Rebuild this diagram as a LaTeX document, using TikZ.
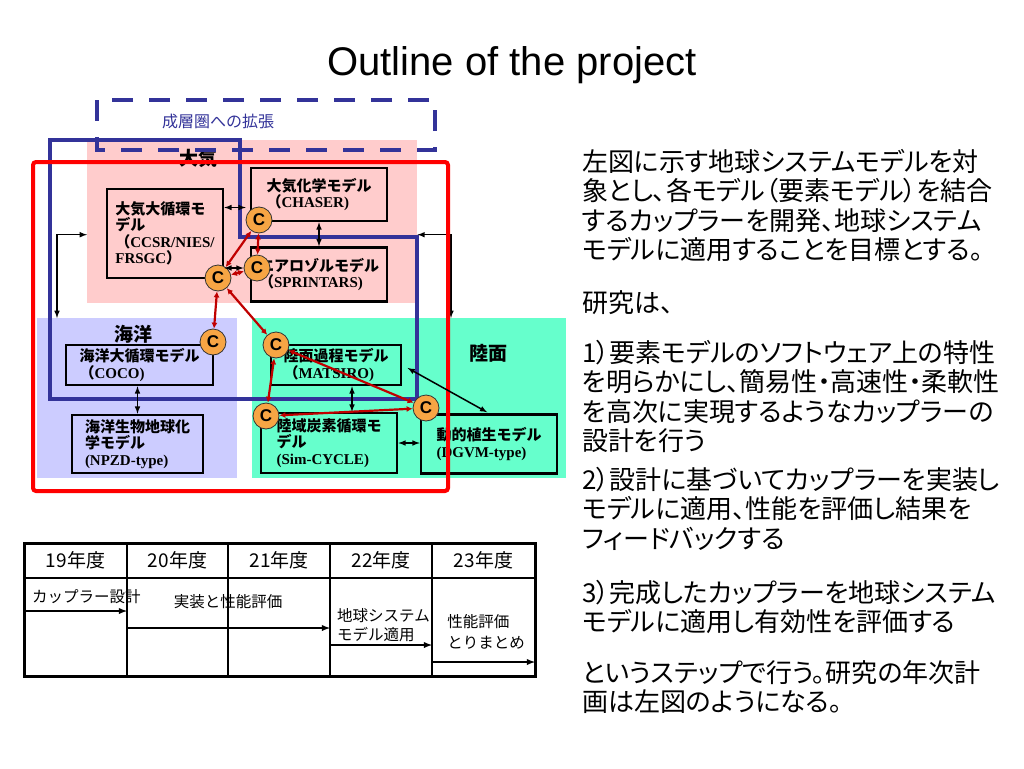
\documentclass[tikz,border=0pt]{standalone}
\usepackage{fontspec}
\setmainfont{Liberation Serif}
\setsansfont{Liberation Sans}
\newfontfamily\jp{Noto Sans CJK JP}
\newfontfamily\jpp[RawFeature=+palt]{Noto Sans CJK JP}
\usetikzlibrary{calc,arrows.meta}
\definecolor{atmpink}{HTML}{FFCCCC}
\definecolor{ocnblue}{HTML}{CCCCFF}
\definecolor{lndgreen}{HTML}{66FFCC}
\definecolor{navy}{HTML}{333399}
\definecolor{cplred}{HTML}{C00000}
\definecolor{cplorange}{HTML}{F7A544}
\begin{document}
\begin{tikzpicture}[x=1pt,y=-1pt,>=latex,
  region/.style={anchor=north west,inner sep=0pt},
  lbl/.style={font=\jp\bfseries\fontsize{19}{19}\selectfont},
  model/.style={draw,line width=2.5pt,align=left,inner sep=0pt,font=\bfseries\fontsize{15}{16.5}\selectfont},
  cpl/.style={circle,draw=black!80,line width=0.8pt,fill=cplorange,minimum size=26pt,inner sep=0pt,font=\sffamily\bfseries\fontsize{17}{17}\selectfont},
  redarr/.style={{Latex[length=6pt,width=6pt]}-{Latex[length=6pt,width=6pt]},draw=cplred,line width=2.2pt},
  blkarr/.style={<->,line width=1.5pt},
  cell/.style={draw,line width=1.2pt,inner sep=0pt,outer sep=0pt,anchor=north west},
  hdr/.style={minimum height=35pt,font=\jp\fontsize{19}{19}\selectfont},
  plantxt/.style={inner sep=0pt,font=\jp\fontsize{15.5}{19}\selectfont},
  plan/.style={->,line width=1.8pt},
  say/.style={anchor=north west,align=left,inner sep=0pt,font=\jpp\fontsize{26}{29.5}\selectfont}]
\useasboundingbox (0,0) rectangle (1024,768);

\node[font=\sffamily\fontsize{40}{40}\selectfont] (title) at (512,65) {Outline of the project};

% component areas
\node[region,fill=atmpink,minimum width=330pt,minimum height=163pt] (atm) at (87,140) {};
\node[region,fill=ocnblue,minimum width=200pt,minimum height=160pt] (ocean) at (37,318) {};
\node[region,fill=lndgreen,minimum width=314pt,minimum height=160pt] (land) at (252,318) {};
\node[lbl] (atmlbl) at (198,158) {大気};
\node[lbl] (ocnlbl) at (133,334) {海洋};
\node[lbl] (lndlbl) at (488,353) {陸面};

\node[model,minimum width=116pt,minimum height=89pt] (gcm) at (165,233.5)
  {{\jp 大気大循環モ}\\{\jp デル}\\{\jp （}CCSR/NIES/\\FRSGC{\jp ）}};
\node[model,minimum width=136pt,minimum height=53pt] (chaser) at (319,194.5)
  {{\jp 大気化学モデル}\\{\jp （}CHASER)};
\node[model,minimum width=136pt,minimum height=54pt] (sprint) at (319,274.5)
  {{\jp エアロゾルモデル}\\{\jp （}SPRINTARS)};
\node[model,minimum width=147pt,minimum height=40pt] (coco) at (139.5,365)
  {{\jp 海洋大循環モデル}\\{\jp （}COCO)};
\node[model,minimum width=131pt,minimum height=58pt] (npzd) at (137.5,444)
  {{\jp 海洋生物地球化}\\{\jp 学モデル}\\(NPZD-type)};
\node[model,minimum width=130pt,minimum height=40pt] (matsiro) at (336,365)
  {{\jp 陸面過程モデル}\\{\jp （}MATSIRO)};
\node[model,minimum width=136pt,minimum height=60pt] (simcyc) at (329,443)
  {{\jp 陸域炭素循環モ}\\{\jp デル}\\(Sim-CYCLE)};
\node[model,minimum width=136pt,minimum height=59pt] (dgvm) at (489,444)
  {{\jp 動的植生モデル}\\(DGVM-type)};

\draw[blkarr] ([yshift=-13pt]atm.west) -| ([xshift=20pt]ocean.north west);
\draw[blkarr] ([yshift=-13pt]atm.east) -| ([xshift=199pt]land.north west);

% frames
\draw[navy,line width=4pt] (50,140)--(240,140)--(240,237)--(417,237)--(417,399)--(50,399)--cycle;
\draw[red,line width=4pt,rounded corners=3pt] (33,162) rectangle (448,491);
\draw[navy,line width=4pt,dash pattern=on 21pt off 16pt] (97,100) rectangle (435,150);
\node[font=\jp\fontsize{16}{16}\selectfont,text=navy] (strat) at (218,121) {成層圏への拡張};

% couplers
\node[cpl] (c1) at (259,220) {C};
\node[cpl] (c2) at (257,268) {C};
\node[cpl] (c3) at (218,278) {C};
\node[cpl] (c4) at (213,342) {C};
\node[cpl] (c5) at (276,345) {C};
\node[cpl] (c6) at (266,416) {C};
\node[cpl] (c7) at (426,408) {C};

\coordinate (a1) at ($(chaser.west)+(-4,13)$);
\draw[blkarr] (gcm.east |- a1) -- (a1);
\draw[blkarr] (gcm.east |- c2.west) -- (c2.west);
\draw[blkarr] (chaser.south) -- (sprint.north);
\draw[blkarr] (npzd.north |- coco.south) -- (npzd.north);
\draw[blkarr] ([xshift=16pt]matsiro.south) -- ([xshift=16pt]matsiro.south |- simcyc.north);
\draw[blkarr] (simcyc.east) -- (simcyc.east -| dgvm.west);
\draw[blkarr,shorten <=6pt,shorten >=2pt] (matsiro.east) -- (dgvm.north);

\draw[redarr] (c1) -- (c3);
\draw[redarr] (c1) -- (c2);
\draw[redarr] (c2) -- (c3);
\draw[redarr] (c3) -- (c4);
\draw[redarr] (c3) -- (c5);
\draw[redarr] (c5) -- (c6);
\draw[redarr] (c5) -- (c7);
\draw[redarr] (c6) -- (c7);

% plan table
\node[cell,hdr,minimum width=103pt] (h19) at (24,543) {19年度};
\node[cell,hdr,minimum width=101pt] (h20) at (h19.north east) {20年度};
\node[cell,hdr,minimum width=102pt] (h21) at (h20.north east) {21年度};
\node[cell,hdr,minimum width=102pt] (h22) at (h21.north east) {22年度};
\node[cell,hdr,minimum width=103pt] (h23) at (h22.north east) {23年度};
\node[cell,minimum width=103pt,minimum height=98pt] (b19) at (h19.south west) {};
\node[cell,minimum width=101pt,minimum height=98pt] (b20) at (h20.south west) {};
\node[cell,minimum width=102pt,minimum height=98pt] (b21) at (h21.south west) {};
\node[cell,minimum width=102pt,minimum height=98pt] (b22) at (h22.south west) {};
\node[cell,minimum width=103pt,minimum height=98pt] (b23) at (h23.south west) {};
\draw[line width=3pt] (h19.north west) rectangle (b23.south east);

\node[plantxt,anchor=west] (t19) at (32,597) {カップラー設計};
\node[plantxt] (t20) at (228,602) {実装と性能評価};
\node[plantxt,anchor=west,align=left] (t22) at (337,625.5) {地球システム\\モデル適用};
\node[plantxt,align=left,font=\jp\fontsize{15.5}{21}\selectfont] (t23) at (486,631.5) {性能評価\\とりまとめ};
\draw[plan] ([yshift=-33pt]b19.north west) -- ([yshift=-33pt]b19.north east);
\draw[plan] ([yshift=-50pt]b20.north west) -- ([yshift=-50pt]b21.north east);
\draw[plan] ([yshift=-67pt]b22.north west) -- ([yshift=-67pt]b22.north east);
\draw[plan] ([yshift=-84pt]b23.north west) -- ([yshift=-84pt]b23.north east);

% explanation
\node[say] (p1) at (582,149) {左図に示す地球システムモデルを対\\象とし、各モデル（要素モデル）を結合\\するカップラーを開発、地球システム\\モデルに適用することを目標とする。};
\node[say] (p2) at (582,290) {研究は、};
\node[say] (p3) at (582,340) {1）要素モデルのソフトウェア上の特性\\を明らかにし、簡易性・高速性・柔軟性\\を高次に実現するようなカップラーの\\設計を行う};
\node[say] (p4) at (582,467) {2）設計に基づいてカップラーを実装し\\モデルに適用、性能を評価し結果を\\フィードバックする};
\node[say] (p5) at (582,580) {3）完成したカップラーを地球システム\\モデルに適用し有効性を評価する};
\node[say] (p6) at (582,660) {というステップで行う。研究の年次計\\画は左図のようになる。};
\end{tikzpicture}
\end{document}
